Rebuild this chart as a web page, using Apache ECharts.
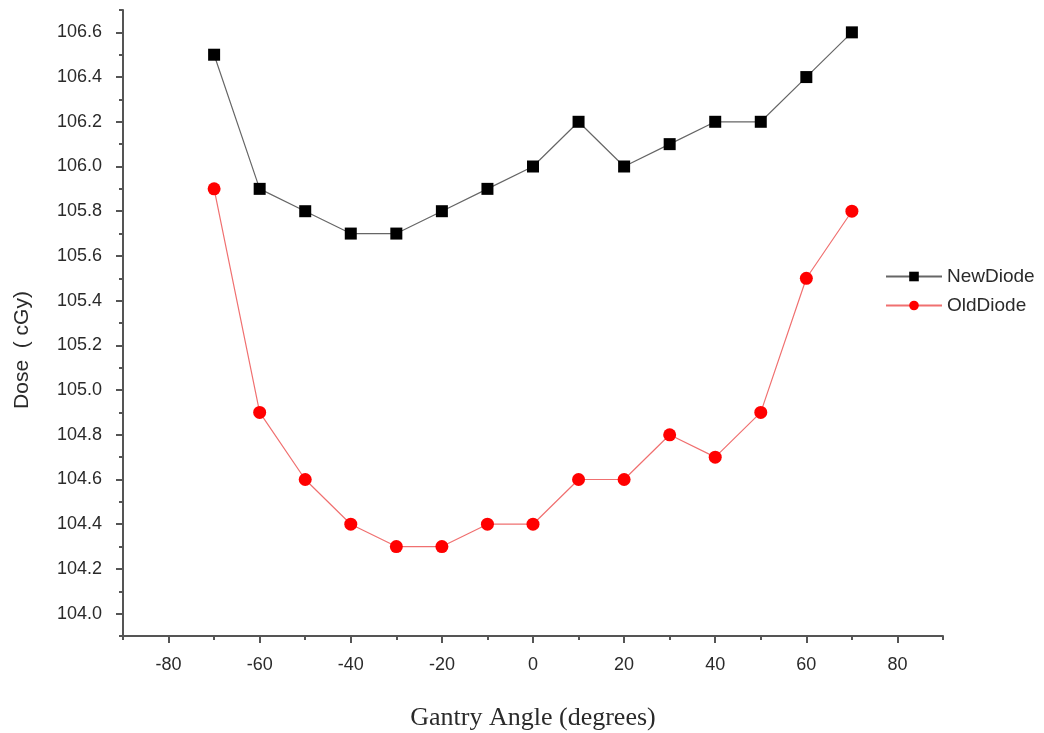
<!DOCTYPE html>
<html>
<head>
<meta charset="utf-8">
<script src="https://cdn.jsdelivr.net/npm/echarts@6/dist/echarts.min.js"></script>
<style>html,body{margin:0;padding:0;background:#fff}#c{width:1044px;height:733px}</style>
</head>
<body>
<div id="c"></div>
<script>
const angles = [-70,-60,-50,-40,-30,-20,-10,0,10,20,30,40,50,60,70];
const newDiode = [106.5,105.9,105.8,105.7,105.7,105.8,105.9,106.0,106.2,106.0,106.1,106.2,106.2,106.4,106.6];
const oldDiode = [105.9,104.9,104.6,104.4,104.3,104.3,104.4,104.4,104.6,104.6,104.8,104.7,104.9,105.5,105.8];
const xMajor = [-80,-60,-40,-20,0,20,40,60,80];
const xMinor = [-90,-70,-50,-30,-10,10,30,50,70,90];
const yMajor = [104.0,104.2,104.4,104.6,104.8,105.0,105.2,105.4,105.6,105.8,106.0,106.2,106.4,106.6];
const yMinor = [103.9,104.1,104.3,104.5,104.7,104.9,105.1,105.3,105.5,105.7,105.9,106.1,106.3,106.5,106.7];

const axisCol = '#555';
const sans = 'Liberation Sans, Arial, sans-serif';
const labelStyle = {color:'#2a2a2a', fontFamily:sans, fontSize:18};
const chart = echarts.init(document.getElementById('c'));
chart.setOption({
  animation:false,
  backgroundColor:'#fff',
  grid:{left:123, right:101, top:10, bottom:97, containLabel:false, outerBoundsMode:'none'},
  legend:{
    orient:'vertical', left:880, top:262, itemGap:10, itemWidth:56, itemHeight:12,
    textStyle:{color:'#2a2a2a', fontFamily:sans, fontSize:19},
    data:['NewDiode','OldDiode']
  },
  graphic:[{
    type:'text', x:22, y:350, rotation:Math.PI/2,
    style:{text:'Dose  ( cGy)', fill:'#2a2a2a', font:'21px Liberation Sans, Arial, sans-serif', textAlign:'center', textVerticalAlign:'middle'}
  }],
  xAxis:[{
    type:'value', min:-90, max:90, position:'bottom',
    name:'Gantry Angle (degrees)', nameLocation:'middle', nameGap:69,
    nameTextStyle:{color:'#2a2a2a', fontFamily:'Liberation Serif, Times New Roman, serif', fontSize:26},
    axisLine:{show:true, onZero:false, lineStyle:{color:axisCol, width:2}},
    axisTick:{show:true, customValues:xMajor, length:7, lineStyle:{color:axisCol, width:2}},
    axisLabel:Object.assign({customValues:xMajor, margin:20}, labelStyle),
    splitLine:{show:false}
  },{
    type:'value', min:-90, max:90, position:'bottom',
    axisLine:{show:false, onZero:false},
    axisTick:{show:true, customValues:xMinor, length:4, lineStyle:{color:axisCol, width:2}},
    axisLabel:{show:false},
    splitLine:{show:false}
  }],
  yAxis:[{
    type:'value', min:103.9, max:106.7, position:'left',
    axisLine:{show:true, onZero:false, lineStyle:{color:axisCol, width:2}},
    axisTick:{show:true, customValues:yMajor, length:7, lineStyle:{color:axisCol, width:2}},
    axisLabel:Object.assign({customValues:yMajor, margin:21, formatter:v=>v.toFixed(1)}, labelStyle),
    splitLine:{show:false}
  },{
    type:'value', min:103.9, max:106.7, position:'left',
    axisLine:{show:false, onZero:false},
    axisTick:{show:true, customValues:yMinor, length:4, lineStyle:{color:axisCol, width:2}},
    axisLabel:{show:false},
    splitLine:{show:false}
  }],
  series:[{
    name:'NewDiode', type:'line', xAxisIndex:0, yAxisIndex:0,
    data:angles.map((a,i)=>[a,newDiode[i]]),
    symbol:'rect', symbolSize:12,
    lineStyle:{color:'#666', width:1.2},
    itemStyle:{color:'#000'}
  },{
    name:'OldDiode', type:'line', xAxisIndex:0, yAxisIndex:0,
    data:angles.map((a,i)=>[a,oldDiode[i]]),
    symbol:'circle', symbolSize:13,
    lineStyle:{color:'#f07070', width:1.2},
    itemStyle:{color:'#ff0000'}
  }]
});
</script>
</body>
</html>
